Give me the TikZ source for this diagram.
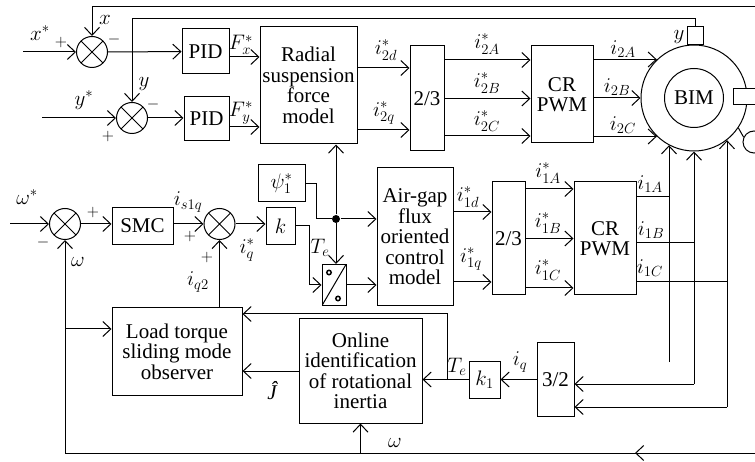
\documentclass[tikz,border=0pt]{standalone}
\usepackage{fix-cm}
\usepackage{amsmath}
\usepackage{fontspec}
\setmainfont{Liberation Serif}
\usepackage{tikz}
\usetikzlibrary{arrows.meta,positioning,calc,decorations.markings}

\begin{document}
\begin{tikzpicture}[
    x=1pt, y=-1pt,
    line width=1pt,
    every node/.style={font=\fontsize{21}{20.5}\selectfont},
    block/.style={rectangle, draw, align=center, inner sep=1pt},
    sum/.style={circle, draw, minimum size=31pt, inner sep=0pt,
        path picture={\draw (path picture bounding box.north west) -- (path picture bounding box.south east)
                            (path picture bounding box.south west) -- (path picture bounding box.north east);}},
    switchbox/.style={rectangle, draw, minimum width=24pt, minimum height=41pt, inner sep=0pt,
        path picture={\draw (path picture bounding box.south west) -- (path picture bounding box.north east);
                      \draw[line width=1.5pt] ([xshift=7pt,yshift=-8pt]path picture bounding box.north west) circle (2.2pt);
                      \draw[line width=1.5pt] ([xshift=-8pt,yshift=7pt]path picture bounding box.south east) circle (2.2pt);}},
    jdot/.style={circle, fill, inner sep=0pt, minimum size=8pt},
    lbl/.style={inner sep=0pt},
    sgn/.style={inner sep=0pt, font=\fontsize{16}{16}\selectfont},
    arrow/.style={-{Straight Barb[length=8pt,width=15pt]}},
    midarr/.style={postaction={decorate}, decoration={markings,
        mark=at position 120pt with {\arrow{Straight Barb[length=8pt,width=15pt]}}}},
]
    \useasboundingbox (0,0) rectangle (755,462);
    \clip (0,0) rectangle (755,462);

    % Suspension loop
    \node[sum] (sx) at (92,52) {};
    \node[sum] (sy) at (132,118) {};
    \node[block, minimum width=47pt, minimum height=45pt] (pidx) at (205.5,51.5) {PID};
    \node[block, minimum width=45pt, minimum height=44pt] (pidy) at (206.5,119) {PID};
    \node[block, minimum width=97pt, minimum height=117pt] (radial) at (308.5,85.5) {Radial\\suspension\\force\\model};
    \node[block, minimum width=34pt, minimum height=105pt] (tra) at (427,98.5) {2/3};
    \node[block, minimum width=62pt, minimum height=97pt] (pwma) at (562,94.5) {CR\\PWM};

    % Motor
    \node[circle, draw, minimum size=106pt, inner sep=0pt] (motor) at (694,98) {};
    \node[circle, draw, minimum size=59pt, inner sep=0pt] (bim) at (694,98) {BIM};
    \node[draw, fill=white, minimum width=16pt, minimum height=18pt, inner sep=0pt] (ysens) at (695,36) {};
    \node[draw, fill=white, minimum width=28pt, minimum height=16pt, inner sep=0pt] (xsens) at (747,97) {};
    \node[circle, draw, minimum size=22pt, inner sep=0pt] (enc) at (754,142) {};
    \draw (motor.326) -- (enc.155);

    % Speed loop
    \node[sum] (sw) at (65,224) {};
    \node[block, minimum width=61pt, minimum height=37pt] (smc) at (142.5,226) {SMC};
    \node[sum] (si) at (219.5,224) {};
    \node[block, minimum width=47pt, minimum height=37pt] (psi) at (281.5,183.5) {$\psi_1^*$};
    \node[block, minimum width=29pt, minimum height=37pt] (kb) at (280.5,226) {$k$};
    \node[jdot] (jn) at (336,219) {};
    \node[switchbox] (swt) at (334,285) {};
    \node[block, minimum width=76pt, minimum height=138pt] (airgap) at (415,237) {Air-gap\\flux\\oriented\\control\\model};
    \node[block, minimum width=33pt, minimum height=113pt] (trb) at (508.5,238.5) {2/3};
    \node[block, minimum width=62pt, minimum height=113pt] (pwmb) at (605,238.5) {CR\\PWM};

    % Observer
    \node[block, minimum width=37pt, minimum height=74pt] (tcb) at (555.5,379.5) {3/2};
    \node[block, minimum width=31pt, minimum height=37pt] (kone) at (484.5,379.5) {$k_1$};
    \node[block, minimum width=123pt, minimum height=104pt] (online) at (360.5,371) {Online\\identification\\of rotational\\inertia};
    \node[block, minimum width=130pt, minimum height=87pt] (load) at (177,351.5) {Load torque\\sliding mode\\observer};

    % Free ends
    \coordinate (xin) at (23,52);
    \coordinate (yin) at (42,118);
    \coordinate (win) at (10,224);
    \coordinate (xr) at (755,7);
    \coordinate (wr) at (755,453);
    \coordinate (ia) at (669,362);
    \coordinate (ib) at (694,384);
    \coordinate (ic) at (727,407);
    \coordinate (tebr) at (447,379.5);

    % Position loops
    \draw[arrow] (xin) -- (sx);
    \draw[arrow] (sx) -- (pidx);
    \draw[arrow] (xr) -| (sx);
    \draw[arrow] (yin) -- (sy);
    \draw[arrow] (sy) -- (sy -| pidy.west);
    \draw[arrow] (ysens.north) -- ++(0,-8) -| (sy);
    \draw[arrow] ([yshift=-5.5pt]pidx.east) -- ([yshift=-5.5pt]pidx.east -| radial.west);
    \draw[arrow] ([yshift=-8pt]pidy.east) -- ([yshift=-8pt]pidy.east -| radial.west);
    \draw[arrow] ([yshift=17.5pt]radial.east) -- ([yshift=17.5pt]radial.east -| tra.west);
    \draw[arrow] ([yshift=-44.5pt]radial.east) -- ([yshift=-44.5pt]radial.east -| tra.west);
    \foreach \dy in {38.5,0,-37.5}
        \draw[arrow] ([yshift=\dy pt]tra.east) -- ([yshift=\dy pt]tra.east -| pwma.west);
    \foreach \a in {134,180,226}
        \draw[arrow] (pwma.east |- motor.\a) -- (motor.\a);

    % Speed and flux paths
    \draw[arrow] (win) -- (sw);
    \draw[arrow] (sw) -- (sw -| smc.west);
    \draw[arrow] (si -| smc.east) -- (si);
    \draw[arrow] (si) -- (si -| kb.west);
    \draw[arrow] (kb.east) -- ++(14,0) |- (swt.west);
    \draw (psi.east) -- ++(11,0) |- (jn);
    \draw[arrow] (jn) -- (jn -| airgap.west);
    \draw[arrow] (jn) -- (jn |- radial.south);
    \draw[arrow] (jn) -- (jn |- swt.north);
    \draw[arrow] (swt.east) -- (swt.east -| airgap.west);
    \draw[arrow] ([yshift=25pt]airgap.east) -- ([yshift=25pt]airgap.east -| trb.west);
    \draw[arrow] ([yshift=-45pt]airgap.east) -- ([yshift=-45pt]airgap.east -| trb.west);
    \foreach \dy in {49.5,0,-49.5}
        \draw[arrow] ([yshift=\dy pt]trb.east) -- ([yshift=\dy pt]trb.east -| pwmb.west);
    \draw ([yshift=41.5pt]pwmb.east) -- ([yshift=41.5pt]pwmb.east -| ia);
    \draw ([yshift=-4.5pt]pwmb.east) -- ([yshift=-4.5pt]pwmb.east -| ib);
    \draw ([yshift=-43.5pt]pwmb.east) -- ([yshift=-43.5pt]pwmb.east -| ic);
    \draw[arrow] (ia) -- (ia |- motor.242);
    \draw[arrow] (ib) -- (motor.south);
    \draw[arrow] (ic) -- (ic |- motor.308);
    \draw[arrow] (ib) -- (ib -| tcb.east);
    \draw[arrow] (ic) -- (ic -| tcb.east);

    % Observer paths
    \draw[arrow] (tcb.west) -- (tcb.west -| kone.east);
    \draw[arrow] (kone.west) -- (kone.west -| online.east);
    \draw[arrow] (tebr) |- ([yshift=37.5pt]load.east);
    \draw[arrow] (online.west) -- (online.west -| load.east);
    \draw[arrow] (si |- load.north) -- (si);
    \draw[arrow] ([yshift=22.5pt]load.west -| sw) -- ([yshift=22.5pt]load.west);
    \draw[arrow, midarr] (wr) -- (sw |- wr) -- (sw);
    \draw[arrow] (online.south |- wr) -- (online.south);

    % Labels
    \node[lbl] (lxs) at (40,33) {$x^*$};
    \node[sgn] (pxs) at (61,43) {$+$};
    \node[lbl] (lx) at (105,20) {$x$};
    \node[sgn] (mx) at (114,40) {$-$};
    \node[lbl] (lys) at (84,100) {$y^*$};
    \node[sgn] (pys) at (108,137) {$+$};
    \node[lbl] (ly) at (144,84) {$y$};
    \node[sgn] (my) at (153,105) {$-$};
    \node[lbl] (lfx) at (241,45) {$F_x^*$};
    \node[lbl] (lfy) at (241,113) {$F_y^*$};
    \node[lbl] (ltwod) at (386,50) {$i_{2d}^*$};
    \node[lbl] (ltwoq) at (384,113) {$i_{2q}^*$};
    \node[lbl] (ltwoas) at (487,44) {$i_{2A}^*$};
    \node[lbl] (ltwobs) at (487,83) {$i_{2B}^*$};
    \node[lbl] (ltwocs) at (487,121) {$i_{2C}^*$};
    \node[lbl] (ltwoa) at (623,49) {$i_{2A}$};
    \node[lbl] (ltwob) at (617,87) {$i_{2B}$};
    \node[lbl] (ltwoc) at (623,125) {$i_{2C}$};
    \node[lbl] (lysn) at (679,37) {$y$};
    \node[lbl] (lws) at (27,197) {$\omega^*$};
    \node[sgn] (mws) at (43,243) {$-$};
    \node[sgn] (pws) at (93,213) {$+$};
    \node[lbl] (lw) at (78,262) {$\omega$};
    \node[lbl] (lisq) at (188,202) {$i_{s1q}$};
    \node[sgn] (pis) at (190,237) {$+$};
    \node[lbl] (liq) at (247,250) {$i_q^*$};
    \node[sgn] (piq) at (207,258) {$+$};
    \node[lbl] (liqtwo) at (198,282) {$i_{q2}$};
    \node[lbl] (lte) at (320,248) {$T_e$};
    \node[lbl] (loned) at (468,197) {$i_{1d}^*$};
    \node[lbl] (loneq) at (471,259) {$i_{1q}^*$};
    \node[lbl] (loneas) at (548,173) {$i_{1A}^*$};
    \node[lbl] (lonebs) at (548,223) {$i_{1B}^*$};
    \node[lbl] (lonecs) at (548,270) {$i_{1C}^*$};
    \node[lbl] (lonea) at (650,184) {$i_{1A}$};
    \node[lbl] (loneb) at (651,230) {$i_{1B}$};
    \node[lbl] (lonec) at (650,268) {$i_{1C}$};
    \node[lbl] (ltetwo) at (457,367) {$T_e$};
    \node[lbl] (liqfb) at (520,362) {$i_q$};
    \node[lbl] (ljh) at (272,391) {\itshape Ĵ};
    \node[lbl] (lwb) at (395,443) {$\omega$};
\end{tikzpicture}
\end{document}
